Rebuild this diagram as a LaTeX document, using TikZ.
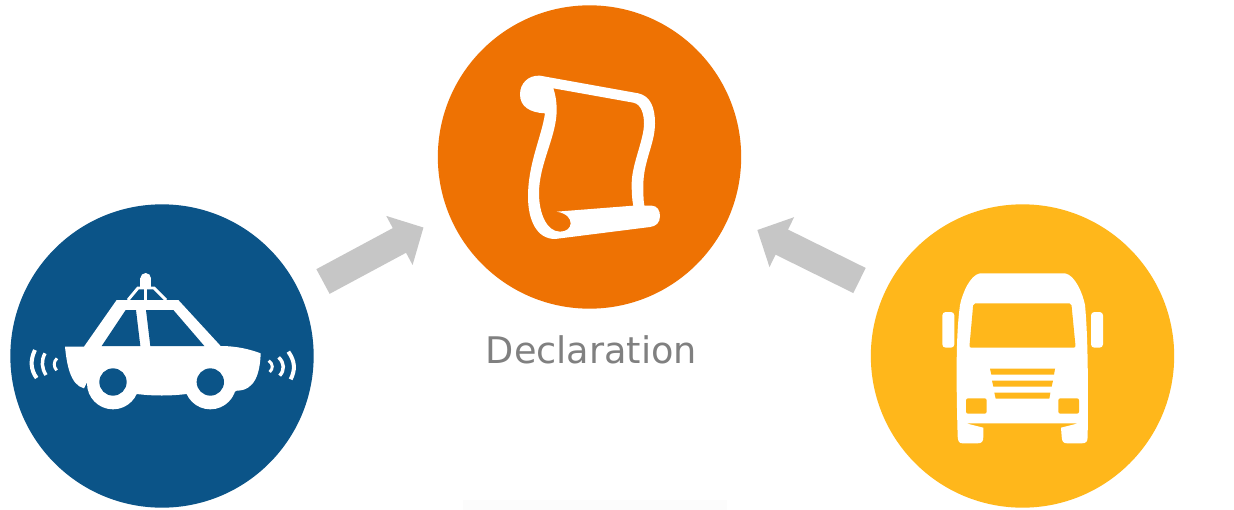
\documentclass[tikz,border=0pt]{standalone}
\usepackage{fontspec}
\setmainfont{DejaVu Sans}
\usetikzlibrary{arrows.meta}
\definecolor{cblue}{HTML}{0B5488}
\definecolor{corange}{HTML}{EE7203}
\definecolor{cyellow}{HTML}{FFB71B}
\definecolor{cgrey}{HTML}{C6C6C6}
\definecolor{ctext}{HTML}{808080}
\tikzset{
  disc/.style={circle,inner sep=0pt,minimum size=227.5pt,draw=none},
  blockarrow/.style={draw=cgrey,line width=21pt,-{Triangle[length=20.5pt,width=40.5pt]}},
}
\begin{document}
\begin{tikzpicture}[x=0.75pt,y=-0.75pt]
\useasboundingbox (0,0) rectangle (1234,510);
\fill[white] (0,0) rectangle (1234,510);
\fill[black!1] (463,500) rectangle (727,510);
\node[disc,fill=corange] (decl) at (589.5,157) {};
\node[disc,fill=cblue] (car) at (162,356) {};
\node[disc,fill=cyellow] (truck) at (1022.5,356) {};
\node[text=ctext,font=\fontsize{27.5pt}{32pt}\selectfont,anchor=base] (label) at (591.5,363.5) {Declaration};
\coordinate (a1) at (323,281.5);
\coordinate (a2) at (423.5,227.5);
\coordinate (b1) at (859.5,280.5);
\coordinate (b2) at (757.3,230);
\draw[blockarrow] (a1) -- (a2);
\draw[blockarrow] (b1) -- (b2);
% car
\begin{scope}[shift={(10,250)},x=0.25pt,y=-0.25pt]
 \fill[white] (165,290) -- (222,290) -- (320,150) -- (505,150) -- (632,288)
   .. controls (680,288) and (720,298) .. (752,310)
   .. controls (750,370) and (735,422) .. (680,422) -- (600,470) -- (530,432)
   .. controls (480,438) and (430,438) .. (380,432) -- (310,470) -- (232,395) -- (222,415)
   .. controls (180,405) and (170,340) .. (165,290) -- cycle;
 \fill[white] (309,400) circle[radius=78];
 \fill[white] (601,400) circle[radius=78];
 \fill[cblue] (309,396) circle[radius=41];
 \fill[cblue] (601,396) circle[radius=41];
 \fill[cblue] (275,288) -- (347,180) -- (378,180) -- (391,288) -- cycle;
 \fill[cblue] (421,288) -- (408,180) -- (490,180) -- (583,288) -- cycle;
 \fill[white] (407,85) circle[radius=16];
 \fill[white] (391,85) rectangle (423,116);
 \draw[white,line width=2.2pt] (354,150) -- (384,114) -- (432,114) -- (468,150);
 \draw[white,line width=2.2pt] (407,114) -- (407,150);
 \draw[white,line width=3pt] (75,300) .. controls (60,330) and (62,360) .. (80,384);
 \draw[white,line width=2.6pt] (105,310) .. controls (93,332) and (95,355) .. (108,375);
 \draw[white,line width=2.2pt] (141,325) .. controls (130,335) and (130,350) .. (140,361);
 \draw[white,line width=2.2pt] (776,332) .. controls (790,342) and (790,356) .. (779,366);
 \draw[white,line width=2.6pt] (806,322) .. controls (824,340) and (824,360) .. (809,377);
 \draw[white,line width=3pt] (835,305) .. controls (856,335) and (856,360) .. (842,388);
\end{scope}
% scroll
\begin{scope}[shift={(500,60)},x=0.25pt,y=-0.25pt]
 \fill[white,even odd rule]
   (120,47) -- (415,100) .. controls (450,108) and (465,140) .. (465,190)
   .. controls (465,250) and (432,300) .. (430,370) .. controls (430,400) and (430,420) .. (433,437)
   -- (455,437) .. controls (472,437) and (480,452) .. (480,468) .. controls (480,488) and (468,499) .. (450,501)
   -- (165,537) .. controls (110,537) and (84,480) .. (84,410)
   .. controls (84,310) and (125,230) .. (135,160)
   .. controls (90,158) and (60,140) .. (60,103) .. controls (60,70) and (85,45) .. (120,47) -- cycle
   (160,85) -- (400,128) .. controls (425,133) and (432,165) .. (432,190)
   .. controls (432,240) and (396,310) .. (395,370) .. controls (395,395) and (396,420) .. (400,437)
   -- (170,455) .. controls (200,460) and (212,475) .. (212,490)
   .. controls (212,505) and (198,515) .. (180,515)
   .. controls (140,515) and (117,460) .. (117,400)
   .. controls (117,310) and (170,230) .. (170,150)
   .. controls (170,120) and (165,100) .. (160,85) -- cycle;
\end{scope}
% truck
\begin{scope}[shift={(930,260)},x=0.25pt,y=-0.25pt]
 \fill[white] (150,40) -- (405,40) .. controls (435,45) and (458,100) .. (465,135)
   .. controls (473,220) and (475,350) .. (473,530)
   .. controls (473,545) and (468,550) .. (455,550) -- (412,550)
   .. controls (400,550) and (396,545) .. (395,530) -- (393,503) -- (445,490) -- (108,490) -- (160,503)
   -- (160,530) .. controls (160,545) and (155,550) .. (142,550) -- (98,550)
   .. controls (88,550) and (84,545) .. (83,530)
   .. controls (78,350) and (78,220) .. (90,135)
   .. controls (97,100) and (120,45) .. (150,40) -- cycle;
 \fill[cyellow,rounded corners=1.5pt] (130,130) -- (424,130) -- (437,263) -- (118,263) -- cycle;
 \fill[cyellow] (180,326) -- (375,326) -- (372,344) -- (184,344) -- cycle;
 \fill[cyellow] (186,362) -- (369,362) -- (365,380) -- (190,380) -- cycle;
 \fill[cyellow] (193,398) -- (361,398) -- (358,416) -- (197,416) -- cycle;
 \fill[cyellow,rounded corners=1.5pt] (108,415) rectangle (170,461);
 \fill[cyellow,rounded corners=1.5pt] (385,415) rectangle (447,461);
 \fill[white,rounded corners=2.5pt] (37,156) rectangle (73,263);
 \fill[white,rounded corners=2.5pt] (483,156) rectangle (519,263);
\end{scope}
\end{tikzpicture}
\end{document}
